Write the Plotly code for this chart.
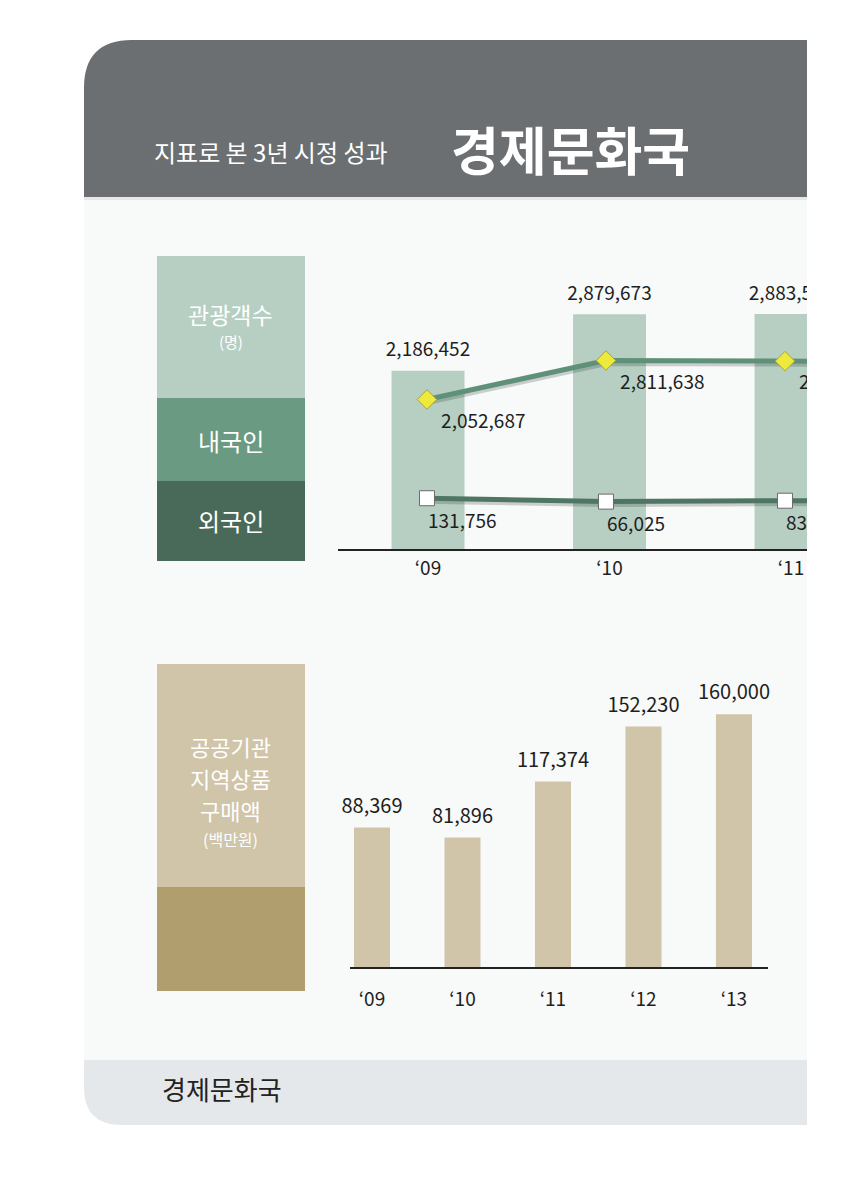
import plotly.graph_objects as go

W, H = 847, 1200

# ---------------- data ----------------
visitor_years = ["‘09", "‘10", "‘11", "‘12"]
visitor_total = [2186452, 2879673, 2883500, None]      # '12 lies outside the cropped page
visitor_domestic = [2052687, 2811638, 2800000, 2790000]
visitor_foreign = [131756, 66025, 83500, 85000]
n_labeled = 3                                            # years whose labels fall on the page

purchase_years = ["‘09", "‘10", "‘11", "‘12", "‘13"]
purchase_amount = [88369, 81896, 117374, 152230, 160000]

# ---------------- helpers (layout only) ----------------
def px(x):
    return x / W

def py(y):
    return 1 - y / H

NUM_FONT = "Noto Sans CJK KR"
KR_FONT = "Noto Sans CJK KR"
TXT = "#1e1e1e"

fig = go.Figure()

# ---------------- top chart: visitors ----------------
fig.add_trace(go.Bar(
    x=visitor_years, y=visitor_total, xaxis="x", yaxis="y",
    marker=dict(color="#b6cfc2", line=dict(width=0)), width=0.402,
    hoverinfo="skip", cliponaxis=True,
))
fig.add_trace(go.Scatter(
    x=visitor_years[:n_labeled], y=visitor_total[:n_labeled], xaxis="x", yaxis="y",
    mode="markers+text", marker=dict(size=14, color="rgba(0,0,0,0)"),
    texttemplate="%{y:,}", textposition="top center",
    textfont=dict(family=NUM_FONT, size=19, color=TXT),
    cliponaxis=True, hoverinfo="skip",
))
# soft shadows under the lines (axis y2 is shifted 2 px down)
for vals in (visitor_domestic, visitor_foreign):
    fig.add_trace(go.Scatter(
        x=visitor_years, y=vals, xaxis="x2", yaxis="y2", mode="lines",
        line=dict(color="rgba(40,50,45,0.22)", width=7),
        cliponaxis=True, hoverinfo="skip",
    ))
# domestic line
fig.add_trace(go.Scatter(
    x=visitor_years, y=visitor_domestic, xaxis="x2", yaxis="y4",
    mode="lines+markers",
    line=dict(color="#5f9179", width=5),
    marker=dict(symbol="diamond", size=15, color="#eeea3c",
                line=dict(color="#a9a43a", width=1)),
    cliponaxis=True, hoverinfo="skip",
))
fig.add_trace(go.Scatter(
    x=visitor_years[:n_labeled], y=visitor_domestic[:n_labeled], xaxis="x2", yaxis="y4",
    mode="markers+text", marker=dict(size=21, color="rgba(0,0,0,0)"),
    texttemplate="%{y:,}", textposition="bottom right",
    textfont=dict(family=NUM_FONT, size=19, color=TXT),
    cliponaxis=True, hoverinfo="skip",
))
# foreign line
fig.add_trace(go.Scatter(
    x=visitor_years, y=visitor_foreign, xaxis="x2", yaxis="y4",
    mode="lines+markers",
    line=dict(color="#4f7664", width=5),
    marker=dict(symbol="square", size=15, color="#ffffff",
                line=dict(color="#6a6a6a", width=1)),
    cliponaxis=True, hoverinfo="skip",
))
fig.add_trace(go.Scatter(
    x=visitor_years[:n_labeled], y=visitor_foreign[:n_labeled], xaxis="x4", yaxis="y4",
    mode="markers+text", marker=dict(size=23, color="rgba(0,0,0,0)"),
    texttemplate="%{y:,}", textposition="bottom right",
    textfont=dict(family=NUM_FONT, size=19, color=TXT),
    cliponaxis=True, hoverinfo="skip",
))

# ---------------- bottom chart: purchases ----------------
fig.add_trace(go.Bar(
    x=purchase_years, y=purchase_amount, xaxis="x3", yaxis="y3",
    marker=dict(color="#d0c5a9", line=dict(width=0)), width=0.398,
    hoverinfo="skip",
))
fig.add_trace(go.Scatter(
    x=purchase_years, y=purchase_amount, xaxis="x3", yaxis="y3",
    mode="markers+text", marker=dict(size=14, color="rgba(0,0,0,0)"),
    texttemplate="%{y:,}", textposition="top center",
    textfont=dict(family=NUM_FONT, size=20, color=TXT),
    cliponaxis=False, hoverinfo="skip",
))

# ---------------- page decoration ----------------
shapes = []
shapes.append(dict(type="rect", xref="paper", yref="paper",
                   x0=px(84), x1=px(807), y0=py(1060), y1=py(197),
                   fillcolor="#f8f9f9", line=dict(width=0), layer="below"))
hdr = (f"M {px(84)},{py(197)} L {px(84)},{py(88)} "
       f"Q {px(84)},{py(40)} {px(132)},{py(40)} "
       f"L {px(807)},{py(40)} L {px(807)},{py(197)} Z")
shapes.append(dict(type="path", xref="paper", yref="paper", path=hdr,
                   fillcolor="#6b6f72", line=dict(width=0), layer="below"))
shapes.append(dict(type="rect", xref="paper", yref="paper",
                   x0=px(84), x1=px(807), y0=py(200), y1=py(197),
                   fillcolor="#e6e8e8", line=dict(width=0), layer="below"))
ftr = (f"M {px(84)},{py(1060)} L {px(807)},{py(1060)} L {px(807)},{py(1125)} "
       f"L {px(122)},{py(1125)} Q {px(84)},{py(1125)} {px(84)},{py(1088)} Z")
shapes.append(dict(type="path", xref="paper", yref="paper", path=ftr,
                   fillcolor="#e5e8eb", line=dict(width=0), layer="below"))
for y0, y1, col in [(256, 398, "#b6cfc2"), (398, 481, "#6a9a81"), (481, 561, "#4a6a59")]:
    shapes.append(dict(type="rect", xref="paper", yref="paper",
                       x0=px(157), x1=px(305), y0=py(y1), y1=py(y0),
                       fillcolor=col, line=dict(width=0), layer="below"))
for y0, y1, col in [(664, 887, "#d0c5a9"), (887, 991, "#b09e6e")]:
    shapes.append(dict(type="rect", xref="paper", yref="paper",
                       x0=px(157), x1=px(305), y0=py(y1), y1=py(y0),
                       fillcolor=col, line=dict(width=0), layer="below"))

annotations = []
def note(text, x, y, size, color="#ffffff", bold=False, xanchor="center"):
    annotations.append(dict(
        text=f"<b>{text}</b>" if bold else text, xref="paper", yref="paper",
        x=px(x), y=py(y), xanchor=xanchor, yanchor="middle", showarrow=False,
        borderpad=0, font=dict(family=KR_FONT, size=size, color=color)))

note("지표로 본 3년 시정 성과", 153, 151, 24, xanchor="left")
note("경제문화국", 450, 149, 52, bold=True, xanchor="left")
note("관광객수", 231, 314, 23)
note("(명)", 231, 341, 15)
note("내국인", 231, 440, 24)
note("외국인", 231, 521, 24)
note("공공기관", 231, 746, 22)
note("지역상품", 231, 778, 22)
note("구매액", 231, 810, 22)
note("(백만원)", 231, 839, 16)
note("경제문화국", 161, 1088, 26, color="#222222", xanchor="left")

axis_common = dict(showgrid=False, zeroline=False, fixedrange=True)
shadow_shift = 2 * 19460   # 2 px lower for the shadow lines
y_lines = [-856240, 4767700]

fig.update_layout(
    width=W, height=H, margin=dict(l=0, r=0, t=0, b=0),
    paper_bgcolor="#ffffff", plot_bgcolor="rgba(0,0,0,0)",
    showlegend=False, shapes=shapes, annotations=annotations,
    xaxis=dict(domain=[px(338), px(807)], anchor="y", type="category",
               categoryorder="array", categoryarray=visitor_years,
               range=[-0.496, 2.088], showline=True, linecolor="#222222", linewidth=1.5,
               ticks="outside", ticklen=1, tickcolor="rgba(0,0,0,0)",
               tickfont=dict(family=NUM_FONT, size=19, color=TXT), **axis_common),
    yaxis=dict(domain=[py(549), py(260)], anchor="x", range=[0, 289 * 12270],
               visible=False, **axis_common),
    xaxis2=dict(overlaying="x", anchor="y2", type="category",
                categoryorder="array", categoryarray=visitor_years,
                range=[-0.497, 2.123], visible=False, **axis_common),
    yaxis2=dict(overlaying="y", anchor="x2",
                range=[y_lines[0] + shadow_shift, y_lines[1] + shadow_shift],
                visible=False, **axis_common),
    yaxis4=dict(overlaying="y", anchor="x2", range=y_lines,
                visible=False, **axis_common),
    xaxis4=dict(overlaying="x", anchor="y4", type="category",
                categoryorder="array", categoryarray=visitor_years,
                range=[-0.417, 2.203], visible=False, **axis_common),
    xaxis3=dict(domain=[px(350), px(768)], anchor="y3", type="category",
                categoryorder="array", categoryarray=purchase_years,
                range=[-0.243, 4.376], showline=True, linecolor="#222222", linewidth=1.5,
                ticks="outside", ticklen=14, tickcolor="rgba(0,0,0,0)",
                tickfont=dict(family=NUM_FONT, size=19, color=TXT), **axis_common),
    yaxis3=dict(domain=[py(967), py(670)], anchor="x3", range=[0, 297 * 633],
                visible=False, **axis_common),
)

fig.write_html("out.html")
